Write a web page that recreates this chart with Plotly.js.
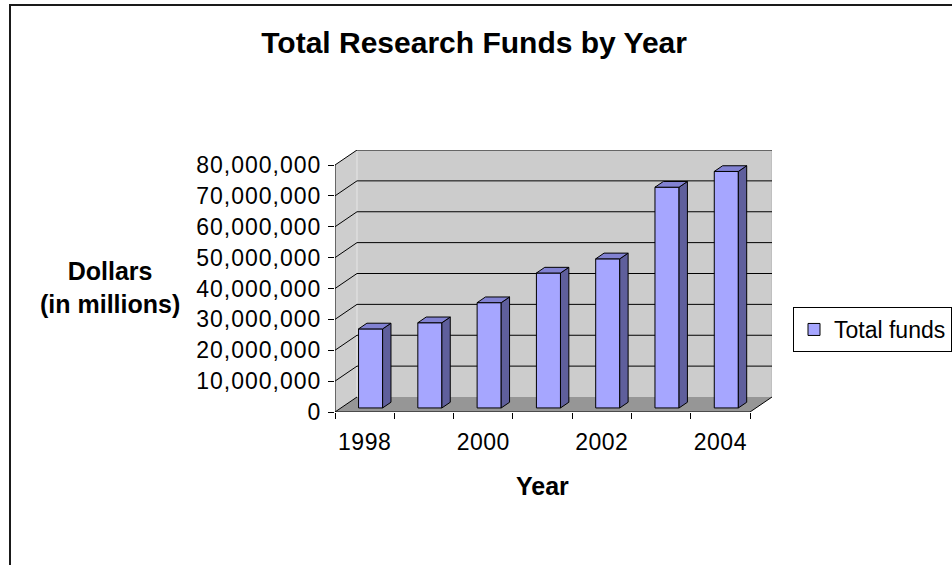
<!DOCTYPE html>
<html>
<head>
<meta charset="utf-8">
<script src="https://cdn.plot.ly/plotly-3.0.1.min.js"></script>
<style>
  html, body { margin: 0; padding: 0; background: #fff; }
  #chart { width: 952px; height: 565px; }
  #chart .ytick text { letter-spacing: 1px; }
  #chart .xtick text { letter-spacing: 0.5px; }
</style>
</head>
<body>
<div id="chart"></div>
<script>
// ---- data ----
const years = ['1998', '1999', '2000', '2001', '2002', '2003', '2004'];
const funds = [25.6e6, 27.6e6, 34.1e6, 43.7e6, 48.3e6, 71.5e6, 76.6e6];
const yTicks = [0, 10e6, 20e6, 30e6, 40e6, 50e6, 60e6, 70e6, 80e6];
const xTickYears = ['1998', '2000', '2002', '2004'];
const seriesName = 'Total funds';

// ---- pseudo-3D geometry (styling constants) ----
const DX = 0.371;      // depth offset in x (category units)
const DY = 4.86e6;     // depth offset in y (value units)
const TF = 0.27, TB = 0.65;  // bar front/back depth fractions
const BW = 0.406;      // bar width in category units
const yMax = yTicks[yTicks.length - 1];
const n = years.length;
const xL = -0.5, xR = n - 0.5;

const FONT = 'Arial, "Liberation Sans", sans-serif';

// category index of each year
const idx = years.map((_, i) => i);

// front faces (bar trace)
const barTrace = {
  type: 'bar',
  name: seriesName,
  x: idx.map(i => i + TF * DX),
  y: funds,
  base: funds.map(() => TF * DY),
  width: BW,
  marker: { color: '#a6a6ff', line: { color: '#000000', width: 1 } },
  hoverinfo: 'skip',
  showlegend: true
};

// side faces and top faces computed from data
const ddx = (TB - TF) * DX, ddy = (TB - TF) * DY;
const sideX = [], sideY = [], topX = [], topY = [];
funds.forEach((v, i) => {
  const cx = i + TF * DX;
  const l = cx - BW / 2, r = cx + BW / 2;
  const b = TF * DY, t = TF * DY + v;
  sideX.push(r, r, r + ddx, r + ddx, r, null);
  sideY.push(b, t, t + ddy, b + ddy, b, null);
  topX.push(l, r, r + ddx, l + ddx, l, null);
  topY.push(t, t, t + ddy, t + ddy, t, null);
});
const sideTrace = {
  type: 'scatter', mode: 'lines', x: sideX, y: sideY, fill: 'toself',
  fillcolor: '#5f5f9c', line: { color: '#000000', width: 1 },
  hoverinfo: 'skip', showlegend: false
};
const topTrace = {
  type: 'scatter', mode: 'lines', x: topX, y: topY, fill: 'toself',
  fillcolor: '#8282d2', line: { color: '#000000', width: 1 },
  hoverinfo: 'skip', showlegend: false
};
// dummy trace so the tick-mark axis x2 is drawn
const dummy = {
  type: 'scatter', mode: 'lines', x: [xL], y: [0], xaxis: 'x2',
  line: { color: 'rgba(0,0,0,0)' }, hoverinfo: 'skip', showlegend: false
};

// ---- walls, floor, gridlines as background shapes ----
const shapes = [];
// back wall
shapes.push({ type: 'path', layer: 'below', xref: 'x', yref: 'y',
  path: `M${xL + DX},${DY} L${xR + DX},${DY} L${xR + DX},${yMax + DY} L${xL + DX},${yMax + DY} Z`,
  fillcolor: '#cccccc', line: { width: 0 } });
// side wall
shapes.push({ type: 'path', layer: 'below', xref: 'x', yref: 'y',
  path: `M${xL},0 L${xL + DX},${DY} L${xL + DX},${yMax + DY} L${xL},${yMax} Z`,
  fillcolor: '#cecece', line: { width: 0 } });
// floor
shapes.push({ type: 'path', layer: 'below', xref: 'x', yref: 'y',
  path: `M${xL},0 L${xR},0 L${xR + DX},${DY} L${xL + DX},${DY} Z`,
  fillcolor: '#969696', line: { width: 0 } });
// side wall back edge
shapes.push({ type: 'line', layer: 'below', xref: 'x', yref: 'y',
  x0: xL + DX, y0: DY, x1: xL + DX, y1: yMax + DY,
  line: { color: '#e6e6e6', width: 1 } });
// back wall right edge
shapes.push({ type: 'line', layer: 'below', xref: 'x', yref: 'y',
  x0: xR + DX, y0: DY, x1: xR + DX, y1: yMax + DY,
  line: { color: '#b4b4b4', width: 1 } });
// gridlines: back wall horizontals + side wall diagonals
yTicks.forEach(v => {
  if (v === 0) return;
  shapes.push({ type: 'line', layer: 'below', xref: 'x', yref: 'y',
    x0: xL + DX, y0: v + DY, x1: xR + DX, y1: v + DY,
    line: { color: '#000000', width: 1 } });
  shapes.push({ type: 'line', layer: 'below', xref: 'x', yref: 'y',
    x0: xL, y0: v, x1: xL + DX, y1: v + DY,
    line: { color: '#000000', width: 1 } });
});
// floor diagonals
shapes.push({ type: 'line', layer: 'below', xref: 'x', yref: 'y',
  x0: xL, y0: 0, x1: xL + DX, y1: DY, line: { color: '#000000', width: 1 } });
shapes.push({ type: 'line', layer: 'below', xref: 'x', yref: 'y',
  x0: xR, y0: 0, x1: xR + DX, y1: DY, line: { color: '#000000', width: 1 } });
// front axis lines
shapes.push({ type: 'line', layer: 'above', xref: 'x', yref: 'y',
  x0: xL, y0: 0, x1: xR, y1: 0, line: { color: '#000000', width: 1 } });
shapes.push({ type: 'line', layer: 'above', xref: 'x', yref: 'y',
  x0: xL, y0: 0, x1: xL, y1: yMax, line: { color: '#000000', width: 1 } });
// chart area border
shapes.push({ type: 'rect', layer: 'above', xref: 'paper', yref: 'paper',
  x0: (10 - 335) / 437, x1: (1000 - 335) / 437,
  y0: (412 - 620) / 262, y1: (412 - 5) / 262,
  line: { color: '#1a1a1a', width: 2 }, fillcolor: 'rgba(0,0,0,0)' });

const layout = {
  width: 952, height: 565,
  margin: { l: 335, r: 180, t: 150, b: 153, pad: 0, autoexpand: false },
  paper_bgcolor: '#ffffff', plot_bgcolor: 'rgba(0,0,0,0)',
  font: { family: FONT, color: '#000000', size: 23 },
  title: {
    text: 'Total Research Funds by Year',
    font: { family: FONT, size: 30, weight: 'bold', color: '#000000' },
    xref: 'container', yref: 'container', x: 0.498, xanchor: 'center',
    y: 1 - 42.5 / 565, yanchor: 'middle'
  },
  xaxis: {
    range: [xL, xR + DX], showgrid: false, zeroline: false, showline: false,
    tickmode: 'array', tickvals: xTickYears.map(y => years.indexOf(y)), ticktext: xTickYears,
    ticks: 'outside', ticklen: 9, tickcolor: 'rgba(0,0,0,0)',
    tickfont: { family: FONT, size: 23, color: '#000000' },
    fixedrange: true
  },
  xaxis2: {
    overlaying: 'x', range: [xL, xR + DX], showgrid: false, zeroline: false,
    showline: false, showticklabels: false,
    tickmode: 'array', tickvals: idx.concat([n]).map(i => i - 0.5),
    ticks: 'outside', ticklen: 6, tickwidth: 1, tickcolor: '#000000',
    fixedrange: true
  },
  yaxis: {
    range: [0, yMax + DY], showgrid: false, zeroline: false, showline: false,
    tickmode: 'array', tickvals: yTicks, tickformat: ',d',
    ticks: 'outside', ticklen: 6, tickwidth: 1, tickcolor: '#000000',
    ticklabelstandoff: 2,
    tickfont: { family: FONT, size: 23, color: '#000000' },
    fixedrange: true
  },
  showlegend: true,
  legend: {
    x: (793 - 335) / 437, xanchor: 'left', y: (412 - 307) / 262, yanchor: 'top',
    bgcolor: '#ffffff', bordercolor: '#000000', borderwidth: 1,
    font: { family: FONT, size: 23, color: '#000000' }
  },
  annotations: [
    { text: '<b>Dollars</b><br><b>(in millions)</b>', xref: 'paper', yref: 'paper',
      x: (109.5 - 335) / 437, y: (412 - 287.5) / 262, xanchor: 'center', yanchor: 'middle',
      showarrow: false, font: { family: FONT, size: 25, color: '#000000' } },
    { text: '<b>Year</b>', xref: 'paper', yref: 'paper',
      x: (542.5 - 335) / 437, y: (412 - 486) / 262, xanchor: 'center', yanchor: 'middle',
      showarrow: false, font: { family: FONT, size: 25, color: '#000000' } }
  ],
  shapes: shapes,
  bargap: 0
};

Plotly.newPlot('chart', [barTrace, sideTrace, topTrace, dummy], layout,
  { displayModeBar: false, staticPlot: true });
</script>
</body>
</html>
